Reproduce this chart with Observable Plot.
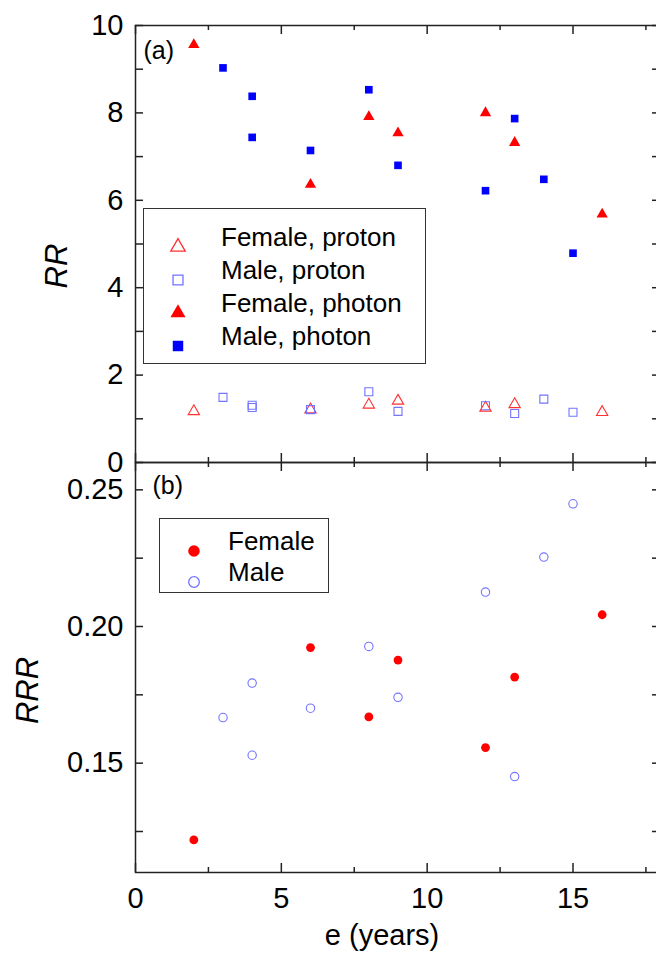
<!DOCTYPE html>
<html><head><meta charset="utf-8">
<script src="https://cdn.jsdelivr.net/npm/d3@7"></script>
<script src="https://cdn.jsdelivr.net/npm/@observablehq/plot@0.6"></script>
<style>
html,body{margin:0;padding:0;background:#fff;overflow:hidden}
#wrap{position:relative;width:656px;height:971px;overflow:hidden;font-family:"Liberation Sans",Arial,sans-serif;color:#000}
#wrap svg{position:absolute;left:0;top:0}
.legend{position:absolute;border:1.5px solid #333;background:#fff;box-sizing:border-box}
.legend .row{position:absolute;left:0;height:0;width:100%}
.legend .row svg{position:absolute;left:0;top:-10px;width:70px;height:20px}
.legend .row span{position:absolute;top:-15px;line-height:30px;font-size:26px;white-space:nowrap}
</style></head>
<body><div id="wrap"></div>
<script>
// ---- data ----
const ageFemale = [2, 6, 8, 9, 12, 13, 16];
const rrFemalePhoton = [9.56, 6.36, 7.91, 7.54, 8.00, 7.32, 5.68];
const rrFemaleProton = [1.17, 1.21, 1.32, 1.41, 1.25, 1.33, 1.15];
const ageMale = [3, 4, 4, 6, 8, 9, 12, 13, 14, 15];
const rrMalePhoton = [9.03, 7.44, 8.38, 7.14, 8.53, 6.80, 6.22, 7.87, 6.48, 4.79];
const rrMaleProton = [1.49, 1.31, 1.26, 1.21, 1.62, 1.17, 1.30, 1.12, 1.45, 1.15];
const rrrFemale = [0.1219, 0.1923, 0.1669, 0.1877, 0.1557, 0.1815, 0.2043];
const rrrMale = [0.1667, 0.1793, 0.1529, 0.1701, 0.1927, 0.1741, 0.2126, 0.1451, 0.2254, 0.2449];

const xMajor = [0, 5, 10, 15];
const xMinor = [2.5, 7.5, 12.5, 17.5];
const yTicksA = [0, 1, 2, 3, 4, 5, 6, 7, 8, 9, 10];
const yLabelsA = [0, 2, 4, 6, 8, 10];
const yTicksB = [0.125, 0.15, 0.175, 0.2, 0.225, 0.25];
const yLabelsB = [0.15, 0.20, 0.25];
const legendA = ["Female, proton", "Male, proton", "Female, photon", "Male, photon"];
const legendB = ["Female", "Male"];
const xTitle = "e (years)";
const yTitleA = "RR";
const yTitleB = "RRR";
const panelA = "(a)";
const panelB = "(b)";

const RED = "#ff0000", BLUE = "#0000ff", RED_O = "#ff3030", BLUE_O = "#7373ff";
const FONT = "Liberation Sans, Arial, Helvetica, sans-serif";

const femaleA = ageFemale.map((a, i) => ({age: a, photon: rrFemalePhoton[i], proton: rrFemaleProton[i], rrr: rrrFemale[i]}));
const maleA = ageMale.map((a, i) => ({age: a, photon: rrMalePhoton[i], proton: rrMaleProton[i], rrr: rrrMale[i]}));

const W = 680, H = 971, ML = 135, MR = 20;
const FW = W - ML - MR; // frame width
const common = {
  width: W, height: H, marginLeft: ML, marginRight: MR,
  style: {fontFamily: FONT, fontSize: "29px", color: "#000", background: "transparent", overflow: "visible", maxWidth: "none"}
};
const TS = {stroke: "#222", strokeWidth: 1.5};

// inward ticks on all four sides of a frame of height FH
function frameTicks(FH, yTicks) {
  return [
    Plot.tickX(xMajor, {x: d => d, insetBottom: FH - 9, ...TS}),
    Plot.tickX(xMajor, {x: d => d, insetTop: FH - 9, ...TS}),
    Plot.tickX(xMinor, {x: d => d, insetBottom: FH - 5, ...TS}),
    Plot.tickX(xMinor, {x: d => d, insetTop: FH - 5, ...TS}),
    Plot.tickY(yTicks, {y: d => d, insetRight: FW - 8, ...TS}),
    Plot.tickY(yTicks, {y: d => d, insetLeft: FW - 8, ...TS})
  ];
}

const FHA = 462 - 25;
const plotA = Plot.plot({
  ...common,
  marginTop: 25, marginBottom: H - 462,
  x: {domain: [0, 18], axis: null},
  y: {domain: [0, 10], axis: null},
  marks: [
    Plot.frame({stroke: "#222", strokeWidth: 1.5}),
    ...frameTicks(FHA, yTicksA),
    Plot.axisY(yLabelsA, {anchor: "left", tickSize: 0, tickPadding: 12, fontSize: 29, label: null, tickFormat: d3.format("d")}),
    Plot.text([yTitleA], {frameAnchor: "left", textAnchor: "middle", lineAnchor: "middle", dx: -78, dy: 22, rotate: -90, fontSize: 31, fontStyle: "italic", text: d => d}),
    Plot.text([panelA], {frameAnchor: "top-left", textAnchor: "start", lineAnchor: "middle", dx: 8, dy: 25, fontSize: 25, text: d => d}),
    Plot.dot(femaleA, {x: "age", y: "proton", symbol: "triangle", r: 4.2, fill: "none", stroke: RED_O, strokeWidth: 1.1}),
    Plot.dot(maleA, {x: "age", y: "proton", symbol: "square", r: 4.5, fill: "none", stroke: BLUE_O, strokeWidth: 1.1}),
    Plot.dot(femaleA, {x: "age", y: "photon", symbol: "triangle", r: 4.2, fill: RED, stroke: null}),
    Plot.dot(maleA, {x: "age", y: "photon", symbol: "square", r: 4.3, fill: BLUE, stroke: null})
  ]
});

const FHB = 872 - 462;
const plotB = Plot.plot({
  ...common,
  marginTop: 462, marginBottom: H - 872,
  x: {domain: [0, 18]},
  y: {domain: [0.11, 0.26]},
  marks: [
    Plot.frame({stroke: "#222", strokeWidth: 1.5}),
    ...frameTicks(FHB, yTicksB),
    Plot.axisX(xMajor, {anchor: "bottom", tickSize: 0, tickPadding: 15, fontSize: 29, label: null, tickFormat: d3.format("d")}),
    Plot.axisY(yLabelsB, {anchor: "left", tickSize: 0, tickPadding: 12, fontSize: 29, label: null, tickFormat: d3.format(".2f")}),
    Plot.text([yTitleB], {frameAnchor: "left", textAnchor: "middle", lineAnchor: "middle", dx: -107, dy: 23, rotate: -90, fontSize: 31, fontStyle: "italic", text: d => d}),
    Plot.text([xTitle], {frameAnchor: "bottom", textAnchor: "middle", lineAnchor: "bottom", dx: -16, dy: 72, fontSize: 29, text: d => d}),
    Plot.text([panelB], {frameAnchor: "top-left", textAnchor: "start", lineAnchor: "middle", dx: 17, dy: 23, fontSize: 25, text: d => d}),
    Plot.dot(maleA, {x: "age", y: "rrr", symbol: "circle", r: 4.2, fill: "none", stroke: BLUE_O, strokeWidth: 1.1}),
    Plot.dot(femaleA, {x: "age", y: "rrr", symbol: "circle", r: 4.4, fill: RED, stroke: null})
  ]
});

const wrap = document.getElementById("wrap");
wrap.appendChild(plotA);
wrap.appendChild(plotB);

// ---- legends ----
function symPath(type, r) { return d3.symbol(type, Math.PI * r * r)(); }
function legend(box, items, rows) {
  const div = document.createElement("div");
  div.className = "legend";
  Object.assign(div.style, {left: box.left + "px", top: box.top + "px", width: box.w + "px", height: box.h + "px"});
  items.forEach((it, i) => {
    const row = document.createElement("div");
    row.className = "row";
    row.style.top = rows[i] + "px";
    row.innerHTML = `<svg viewBox="0 0 70 20"><path transform="translate(${box.mx},10)" d="${symPath(it.type, it.r)}" fill="${it.fill}" stroke="${it.stroke}" stroke-width="1.3"/></svg><span style="left:${box.tx}px">${it.label}</span>`;
    div.appendChild(row);
  });
  wrap.appendChild(div);
}
legend({left: 143, top: 208, w: 283, h: 156, mx: 34, tx: 77},
  [
    {label: legendA[0], type: d3.symbolTriangle, r: 5.4, fill: "none", stroke: RED_O},
    {label: legendA[1], type: d3.symbolSquare, r: 5.6, fill: "none", stroke: BLUE_O},
    {label: legendA[2], type: d3.symbolTriangle, r: 5.6, fill: RED, stroke: "none"},
    {label: legendA[3], type: d3.symbolSquare, r: 5.9, fill: BLUE, stroke: "none"}
  ], [28, 61, 94, 127]);
legend({left: 159, top: 518, w: 170, h: 75, mx: 34, tx: 68},
  [
    {label: legendB[0], type: d3.symbolCircle, r: 5.8, fill: RED, stroke: "none"},
    {label: legendB[1], type: d3.symbolCircle, r: 5.3, fill: "none", stroke: BLUE_O}
  ], [22, 53]);
</script>
</body></html>
